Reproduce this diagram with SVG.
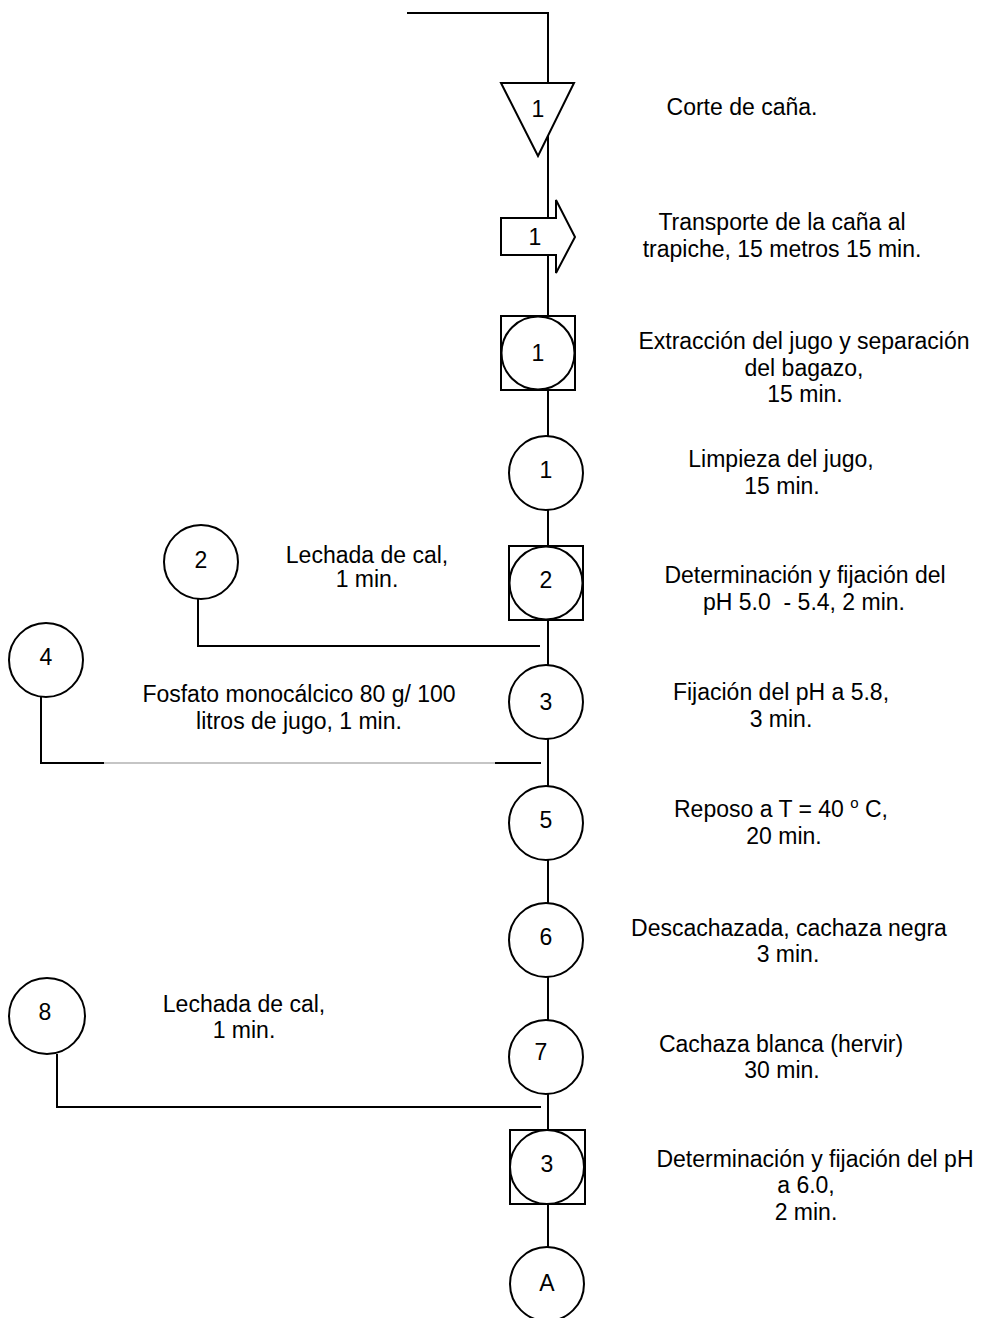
<svg xmlns="http://www.w3.org/2000/svg" width="988" height="1318" viewBox="0 0 988 1318">
<style>
.bg{fill:#ffffff}
.ln{fill:none;stroke:#000;stroke-width:2}
.thin{fill:none;stroke:#8c8c8c;stroke-width:1.2}
.sh{fill:#ffffff;stroke:#000;stroke-width:2}
.t{font-family:"Liberation Sans",Arial,sans-serif;font-size:23px;fill:#000;text-anchor:middle}
.n{font-family:"Liberation Sans",Arial,sans-serif;font-size:23px;fill:#000;text-anchor:middle;dominant-baseline:central}
</style>
<rect class="bg" x="0" y="0" width="988" height="1318"/>
<g id="connectors">
<polyline class="ln" points="407,13 548,13 548,1247"/>
<polyline class="ln" points="198,599 198,646 540,646"/>
<polyline class="ln" points="41,697 41,763 104,763"/>
<line class="thin" x1="104" y1="763" x2="495" y2="763"/>
<line class="ln" x1="495" y1="763" x2="541" y2="763"/>
<polyline class="ln" points="57,1054 57,1107 541,1107"/>
</g>
<g id="n-corte">
<polygon class="sh" points="501,83 574,83 538,156"/>
<text class="n" x="538" y="109">1</text>
</g>
<g id="n-transporte">
<polygon class="sh" points="501,218 556,218 556,200 575,237 556,273 556,255 501,255"/>
<text class="n" x="535" y="237">1</text>
</g>
<g id="n-extraccion">
<rect class="sh" x="501" y="316" width="74" height="74"/>
<circle class="sh" cx="538" cy="353" r="36.5"/>
<text class="n" x="538" y="353">1</text>
</g>
<g id="n-limpieza">
<circle class="sh" cx="546" cy="473" r="37"/>
<text class="n" x="546" y="470">1</text>
</g>
<g id="n-ph1">
<rect class="sh" x="509" y="546" width="74" height="74"/>
<circle class="sh" cx="546" cy="583" r="36.5"/>
<text class="n" x="546" y="580">2</text>
</g>
<g id="n-cal1">
<circle class="sh" cx="201" cy="562" r="37"/>
<text class="n" x="201" y="560">2</text>
</g>
<g id="n-fijacion">
<circle class="sh" cx="546" cy="702" r="37"/>
<text class="n" x="546" y="702">3</text>
</g>
<g id="n-fosfato">
<circle class="sh" cx="46" cy="660" r="37"/>
<text class="n" x="46" y="657">4</text>
</g>
<g id="n-reposo">
<circle class="sh" cx="546" cy="823" r="37"/>
<text class="n" x="546" y="820">5</text>
</g>
<g id="n-descachazada">
<circle class="sh" cx="546" cy="940" r="37"/>
<text class="n" x="546" y="937">6</text>
</g>
<g id="n-cachaza">
<circle class="sh" cx="546" cy="1057" r="37"/>
<text class="n" x="541" y="1052">7</text>
</g>
<g id="n-cal2">
<circle class="sh" cx="47" cy="1016" r="38"/>
<text class="n" x="45" y="1012">8</text>
</g>
<g id="n-ph2">
<rect class="sh" x="510" y="1130" width="75" height="74"/>
<circle class="sh" cx="547" cy="1167" r="37"/>
<text class="n" x="547" y="1164">3</text>
</g>
<g id="n-A">
<circle class="sh" cx="547" cy="1284" r="37"/>
<text class="n" x="547" y="1283">A</text>
</g>
<g id="labels">
<text class="t" x="742" y="115">Corte de caña.</text>
<text class="t" x="782" y="230">Transporte de la caña al</text>
<text class="t" x="782" y="257">trapiche, 15 metros 15 min.</text>
<text class="t" x="804" y="349">Extracción del jugo y separación</text>
<text class="t" x="804" y="376">del bagazo,</text>
<text class="t" x="805" y="402">15 min.</text>
<text class="t" x="781" y="467">Limpieza del jugo,</text>
<text class="t" x="782" y="494">15 min.</text>
<text class="t" x="805" y="583">Determinación y fijación del</text>
<text class="t" x="804" y="610" xml:space="preserve">pH 5.0  - 5.4, 2 min.</text>
<text class="t" x="781" y="700">Fijación del pH a 5.8,</text>
<text class="t" x="781" y="727">3 min.</text>
<text class="t" x="781" y="817" xml:space="preserve">Reposo a T = 40 <tspan font-size="15" dy="-9">o</tspan><tspan dy="9"> C,</tspan></text>
<text class="t" x="784" y="844">20 min.</text>
<text class="t" x="789" y="936">Descachazada, cachaza negra</text>
<text class="t" x="788" y="962">3 min.</text>
<text class="t" x="781" y="1052">Cachaza blanca (hervir)</text>
<text class="t" x="782" y="1078">30 min.</text>
<text class="t" x="815" y="1167">Determinación y fijación del pH</text>
<text class="t" x="806" y="1193">a 6.0,</text>
<text class="t" x="806" y="1220">2 min.</text>
<text class="t" x="367" y="563">Lechada de cal,</text>
<text class="t" x="367" y="587">1 min.</text>
<text class="t" x="299" y="702">Fosfato monocálcico 80 g/ 100</text>
<text class="t" x="299" y="729">litros de jugo, 1 min.</text>
<text class="t" x="244" y="1012">Lechada de cal,</text>
<text class="t" x="244" y="1038">1 min.</text>
</g>
</svg>
